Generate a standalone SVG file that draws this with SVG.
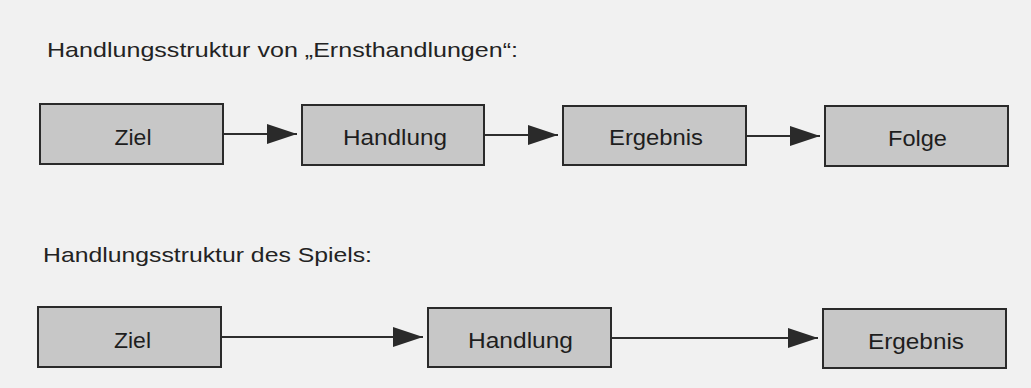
<svg xmlns="http://www.w3.org/2000/svg" width="1031" height="388" viewBox="0 0 1031 388">
  <style>
    .title { font-family: "Liberation Sans", Arial, sans-serif; font-size: 21px; fill: #232323; }
    .box rect { fill: #c7c7c7; stroke: #2a2a2a; stroke-width: 2; }
    .box text { font-family: "Liberation Sans", Arial, sans-serif; font-size: 22.5px; fill: #1e1e1e; text-anchor: middle; }
    .conn line { stroke: #2e2e2e; stroke-width: 2; }
  </style>
  <defs>
    <marker id="arrow" viewBox="0 0 30 20" refX="30" refY="10" markerWidth="30" markerHeight="20" markerUnits="userSpaceOnUse" orient="auto">
      <path d="M0,0 L30,10 L0,20 Z" fill="#2a2a2a"/>
    </marker>
  </defs>
  <rect x="0" y="0" width="1031" height="388" fill="#f1f1f1"/>

  <text class="title" x="47" y="57" textLength="471" lengthAdjust="spacingAndGlyphs">Handlungsstruktur von „Ernsthandlungen“:</text>
  <text class="title" x="43" y="262" textLength="329" lengthAdjust="spacingAndGlyphs">Handlungsstruktur des Spiels:</text>

  <g id="connectors" class="conn">
    <line x1="223" y1="134" x2="297" y2="134" marker-end="url(#arrow)"/>
    <line x1="484" y1="135" x2="558" y2="135" marker-end="url(#arrow)"/>
    <line x1="746" y1="136" x2="820" y2="136" marker-end="url(#arrow)"/>
    <line x1="221" y1="337" x2="423" y2="337" marker-end="url(#arrow)"/>
    <line x1="611" y1="338" x2="818" y2="338" marker-end="url(#arrow)"/>
  </g>

  <g id="ziel1" class="box">
    <rect x="40" y="104" width="183" height="60"/>
    <text x="133" y="145" textLength="37" lengthAdjust="spacingAndGlyphs">Ziel</text>
  </g>
  <g id="handlung1" class="box">
    <rect x="302" y="105" width="182" height="60"/>
    <text x="395" y="144.5" textLength="104" lengthAdjust="spacingAndGlyphs">Handlung</text>
  </g>
  <g id="ergebnis1" class="box">
    <rect x="563" y="106" width="183" height="59"/>
    <text x="656" y="145" textLength="94" lengthAdjust="spacingAndGlyphs">Ergebnis</text>
  </g>
  <g id="folge1" class="box">
    <rect x="825" y="106" width="183" height="60"/>
    <text x="917.5" y="145.5" textLength="59" lengthAdjust="spacingAndGlyphs">Folge</text>
  </g>

  <g id="ziel2" class="box">
    <rect x="38" y="307" width="183" height="60"/>
    <text x="132.5" y="348" textLength="37" lengthAdjust="spacingAndGlyphs">Ziel</text>
  </g>
  <g id="handlung2" class="box">
    <rect x="428" y="308" width="183" height="59"/>
    <text x="520.5" y="348" textLength="105" lengthAdjust="spacingAndGlyphs">Handlung</text>
  </g>
  <g id="ergebnis2" class="box">
    <rect x="823" y="309" width="183" height="59"/>
    <text x="916" y="349" textLength="96" lengthAdjust="spacingAndGlyphs">Ergebnis</text>
  </g>
</svg>
